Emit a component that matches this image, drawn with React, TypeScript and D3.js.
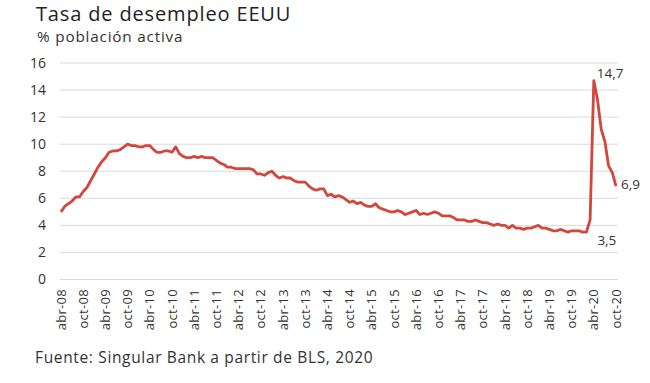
import React from "react";
import * as d3 from "d3";

const title = "Tasa de desempleo EEUU";
const subtitle = "% población activa";
const source = "Fuente: Singular Bank a partir de BLS, 2020";

// Monthly US unemployment rate, Apr 2008 .. Oct 2020
const rates2008 = [5.0, 5.4, 5.6, 5.8, 6.1, 6.1, 6.5, 6.8, 7.3];
const rates2009 = [7.8, 8.3, 8.7, 9.0, 9.4, 9.5, 9.5, 9.6, 9.8, 10.0, 9.9, 9.9];
const rates2010 = [9.8, 9.8, 9.9, 9.9, 9.6, 9.4, 9.4, 9.5, 9.5, 9.4, 9.8, 9.3];
const rates2011 = [9.1, 9.0, 9.0, 9.1, 9.0, 9.1, 9.0, 9.0, 9.0, 8.8, 8.6, 8.5];
const rates2012 = [8.3, 8.3, 8.2, 8.2, 8.2, 8.2, 8.2, 8.1, 7.8, 7.8, 7.7, 7.9];
const rates2013 = [8.0, 7.7, 7.5, 7.6, 7.5, 7.5, 7.3, 7.2, 7.2, 7.2, 6.9, 6.7];
const rates2014 = [6.6, 6.7, 6.7, 6.2, 6.3, 6.1, 6.2, 6.1, 5.9, 5.7, 5.8, 5.6];
const rates2015 = [5.7, 5.5, 5.4, 5.4, 5.6, 5.3, 5.2, 5.1, 5.0, 5.0, 5.1, 5.0];
const rates2016 = [4.8, 4.9, 5.0, 5.1, 4.8, 4.9, 4.8, 4.9, 5.0, 4.9, 4.7, 4.7];
const rates2017 = [4.7, 4.6, 4.4, 4.4, 4.4, 4.3, 4.3, 4.4, 4.3, 4.2, 4.2, 4.1];
const rates2018 = [4.0, 4.1, 4.0, 4.0, 3.8, 4.0, 3.8, 3.8, 3.7, 3.8, 3.8, 3.9];
const rates2019 = [4.0, 3.8, 3.8, 3.7, 3.6, 3.6, 3.7, 3.6, 3.5, 3.6, 3.6, 3.6];
const rates2020 = [3.5, 3.5, 4.4, 14.7, 13.3, 11.1, 10.2, 8.4, 7.9, 6.9];

const rates = [
  ...rates2008, ...rates2009, ...rates2010, ...rates2011, ...rates2012,
  ...rates2013, ...rates2014, ...rates2015, ...rates2016, ...rates2017,
  ...rates2018, ...rates2019, ...rates2020,
];

const xTickLabels = [
  "abr-08", "oct-08", "abr-09", "oct-09", "abr-10", "oct-10", "abr-11", "oct-11",
  "abr-12", "oct-12", "abr-13", "oct-13", "abr-14", "oct-14", "abr-15", "oct-15",
  "abr-16", "oct-16", "abr-17", "oct-17", "abr-18", "oct-18", "abr-19", "oct-19",
  "abr-20", "oct-20",
];
const yTicks = [0, 2, 4, 6, 8, 10, 12, 14, 16];

// annotated points: month index and label
const peakIdx = 144;
const peakLabel = "14,7";
const lowIdx = 142;
const lowLabel = "3,5";
const lastIdx = 150;
const lastLabel = "6,9";

const FONT = "'Open Sans', sans-serif";
const RED = "#d2463b";
const TXT = "#333";

export default function App() {
  const W = 650, H = 383;
  const x = d3.scaleLinear().domain([0, rates.length - 1]).range([61, 616]);
  const y = d3.scaleLinear().domain([0, 16]).range([279.5, 63]);
  const line = d3
    .line<number>()
    .x((_, i) => x(i))
    .y((d) => y(d));

  return (
    <svg
      width={W}
      height={H}
      style={{ position: "absolute", left: 0, top: 0, background: "#fff" }}
      fontFamily={FONT}
    >
      <rect width={W} height={H} fill="#fff" />
      <text x={36} y={21} fontSize={20} letterSpacing={0.85} fill="#222">{title}</text>
      <text x={37} y={42} fontSize={15.3} letterSpacing={0.8} fill={TXT}>{subtitle}</text>

      {yTicks.map((t) => (
        <g key={t}>
          <line x1={60} x2={618} y1={y(t)} y2={y(t)} stroke="#dadada" strokeWidth={1} />
          <text x={46} y={y(t)} dy="0.35em" textAnchor="end" fontSize={14} fill={TXT}>
            {t}
          </text>
        </g>
      ))}

      {xTickLabels.map((lab, k) => {
        const xi = x(k * 6) + 4.5;
        return (
          <text
            key={lab}
            transform={`translate(${xi},289) rotate(-90)`}
            textAnchor="end"
            fontSize={13}
            letterSpacing={0.3}
            fill={TXT}
          >
            {lab}
          </text>
        );
      })}

      <path d={line(rates) || ""} fill="none" stroke={RED} strokeWidth={2.8} strokeLinejoin="round" />

      <text x={x(peakIdx) + 3} y={y(rates[peakIdx]) - 3} fontSize={13.5} fill={TXT}>{peakLabel}</text>
      <text x={x(lowIdx) + 11} y={y(rates[lowIdx]) + 13} fontSize={13.5} fill={TXT}>{lowLabel}</text>
      <text x={x(lastIdx) + 5} y={y(rates[lastIdx]) + 3} fontSize={13.5} fill={TXT}>{lastLabel}</text>

      <text x={35} y={363} fontSize={15.5} letterSpacing={0.65} fill={TXT}>{source}</text>
    </svg>
  );
}
